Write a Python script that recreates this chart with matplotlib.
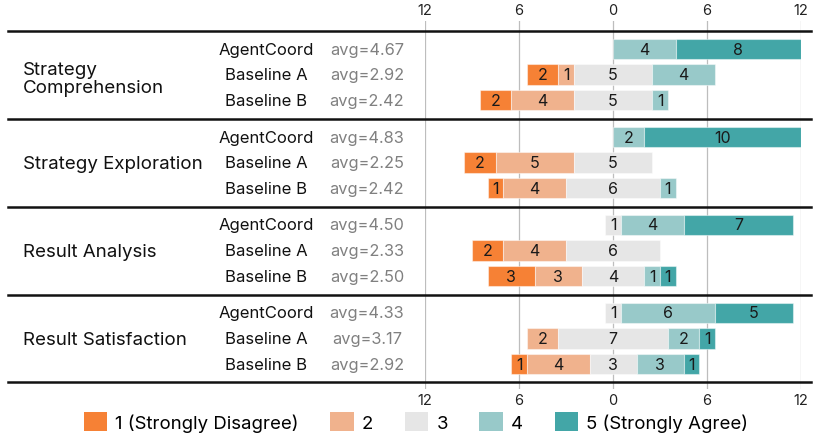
import matplotlib
matplotlib.use("Agg")
import matplotlib.pyplot as plt
from matplotlib.transforms import blended_transform_factory
from matplotlib.patches import Patch
from matplotlib.ticker import FuncFormatter, FixedLocator

plt.rcParams['font.family'] = ['Inter', 'DejaVu Sans']

groups = ["Strategy\nComprehension", "Strategy Exploration", "Result Analysis", "Result Satisfaction"]
systems = ["AgentCoord", "Baseline A", "Baseline B"]
# counts for ratings 1..5, per group, per system
counts = [
    [[0, 0, 0, 4, 8], [2, 1, 5, 4, 0], [2, 4, 5, 1, 0]],
    [[0, 0, 0, 2, 10], [2, 5, 5, 0, 0], [1, 4, 6, 1, 0]],
    [[0, 0, 1, 4, 7], [2, 4, 6, 0, 0], [3, 3, 4, 1, 1]],
    [[0, 0, 1, 6, 5], [0, 2, 7, 2, 1], [1, 4, 3, 3, 1]],
]
avgs = [
    ["4.67", "2.92", "2.42"],
    ["4.83", "2.25", "2.42"],
    ["4.50", "2.33", "2.50"],
    ["4.33", "3.17", "2.92"],
]
rating_labels = ["1 (Strongly Disagree)", "2", "3", "4", "5 (Strongly Agree)"]
colors = ["#F68135", "#F0B28D", "#E6E6E6", "#98C9C9", "#43A6A7"]
ticks = [-12, -6, 0, 6, 12]

W, H = 830, 439
fig = plt.figure(figsize=(W / 100, H / 100), dpi=100)
ax = fig.add_axes([425 / W, 1 - 390 / H, (801 - 425) / W, (390 - 22) / H])

G = 3.45  # group pitch in row units
ax.set_xlim(-12, 12)
ax.set_ylim(13.33, -1.098)

for gi, grp in enumerate(counts):
    for ri, c in enumerate(grp):
        y = gi * G + ri
        left = -(c[0] + c[1] + c[2] / 2.0)
        for k in range(5):
            if c[k] > 0:
                ax.barh(y, c[k], left=left, height=0.82, color=colors[k],
                        edgecolor=(1, 1, 1, 0.45), linewidth=0.8, zorder=3)
                ax.text(left + c[k] / 2.0, y, str(c[k]), ha='center', va='center',
                        fontsize=11.5, color='#1a1a1a', zorder=4)
            left += c[k]

ax.xaxis.set_major_locator(FixedLocator(ticks))
ax.xaxis.set_major_formatter(FuncFormatter(lambda v, p: f"{abs(int(v))}"))
ax.tick_params(axis='x', top=True, labeltop=True, bottom=True, labelbottom=True,
               length=0, labelsize=10.5, colors='#222222', pad=3)
ax.set_yticks([])
ax.grid(axis='x', color='#BDBDBD', linewidth=0.9, zorder=0)
ax.set_axisbelow(True)
for s in ax.spines.values():
    s.set_visible(False)

tr = blended_transform_factory(fig.transFigure, ax.transData)
# separators
for gi in range(len(groups) + 1):
    ys = gi * G - 0.725
    ax.plot([8 / W, 811 / W], [ys, ys], color='#111111', linewidth=1.8,
            transform=tr, clip_on=False, zorder=5)

for gi, gname in enumerate(groups):
    yoff = 0.15 if "\n" in gname else 0.05
    ax.text(23 / W, gi * G + 1 + yoff, gname, transform=tr, ha='left', va='center',
            fontsize=13.5, color='#111111', linespacing=1.05)
    for ri, sname in enumerate(systems):
        y = gi * G + ri
        ax.text(266 / W, y, sname, transform=tr, ha='center', va='center',
                fontsize=12, color='#111111')
        ax.text(367 / W, y, "avg=" + avgs[gi][ri], transform=tr, ha='center', va='center',
                fontsize=11.8, color='#808080')

handles = [Patch(facecolor=colors[k], edgecolor='none', label=rating_labels[k]) for k in range(5)]
fig.legend(handles=handles, loc='center', bbox_to_anchor=(416 / W, 1 - 423 / H), ncol=5,
           frameon=False, fontsize=13.4, handlelength=1.24, handleheight=1.18,
           handletextpad=0.45, columnspacing=1.7, borderaxespad=0)

fig.savefig("out.png", dpi=100)
